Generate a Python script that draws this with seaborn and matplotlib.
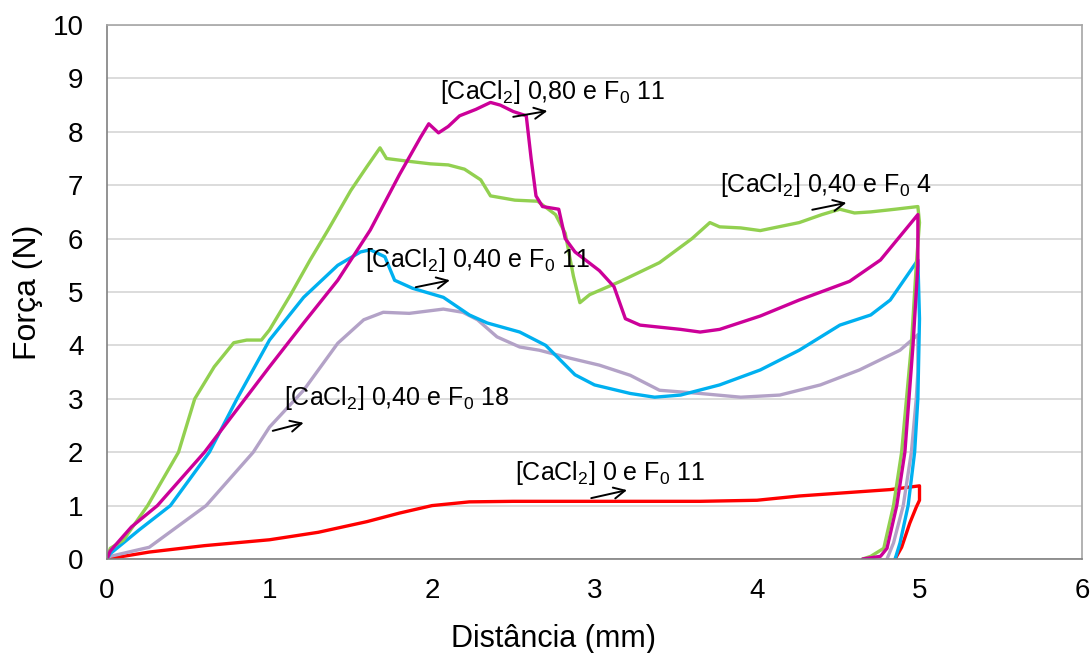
import numpy as np
import pandas as pd
import seaborn as sns
import matplotlib
matplotlib.use("Agg")
import matplotlib.pyplot as plt

# ---- data ----
red_x = [0, 0.26, 0.6, 1.0, 1.3, 1.6, 1.8, 2.0, 2.23, 2.5, 3.0, 3.65, 4.0, 4.26, 4.82, 5.0,
         5.0, 4.98, 4.94, 4.89, 4.85]
red_y = [0, 0.13, 0.25, 0.36, 0.5, 0.7, 0.86, 1.0, 1.07, 1.08, 1.08, 1.08, 1.1, 1.18, 1.3, 1.37,
         1.1, 0.97, 0.67, 0.22, 0]

purple_x = [0, 0.02, 0.26, 0.61, 0.9, 1.0, 1.21, 1.42, 1.58, 1.7, 1.86, 2.07, 2.19, 2.28, 2.4,
            2.54, 2.66, 2.85, 3.03, 3.22, 3.4, 3.65, 3.9, 4.14, 4.39, 4.63, 4.88, 4.99,
            4.99, 4.98, 4.95, 4.9, 4.84, 4.8]
purple_y = [0, 0.05, 0.22, 1.0, 2.0, 2.47, 3.16, 4.04, 4.48, 4.62, 4.6, 4.68, 4.62, 4.48, 4.16,
            3.97, 3.91, 3.76, 3.63, 3.44, 3.16, 3.1, 3.03, 3.07, 3.26, 3.54, 3.91, 4.2,
            3.5, 3.0, 2.0, 1.0, 0.3, 0]

cyan_x = [0, 0.02, 0.2, 0.39, 0.63, 0.8, 1.0, 1.21, 1.42, 1.56, 1.62, 1.71, 1.77, 1.88, 2.07,
          2.23, 2.34, 2.54, 2.7, 2.88, 3.0, 3.22, 3.37, 3.53, 3.77, 4.02, 4.26, 4.51, 4.7,
          4.82, 4.99, 5.0, 4.99, 4.97, 4.93, 4.88, 4.85]
cyan_y = [0, 0.1, 0.55, 1.0, 2.0, 3.0, 4.1, 4.9, 5.5, 5.75, 5.79, 5.66, 5.22, 5.07, 4.9,
          4.57, 4.42, 4.25, 4.0, 3.45, 3.26, 3.1, 3.03, 3.07, 3.26, 3.54, 3.91, 4.38, 4.57,
          4.85, 5.6, 4.5, 3.0, 2.0, 1.0, 0.3, 0]

green_x = [0, 0.02, 0.1, 0.25, 0.44, 0.54, 0.66, 0.78, 0.86, 0.95, 1.0, 1.13, 1.25, 1.36, 1.5,
           1.6, 1.68, 1.72, 1.85, 1.99, 2.1, 2.2, 2.3, 2.36, 2.51, 2.65, 2.76, 2.82, 2.87,
           2.91, 2.97, 3.16, 3.4, 3.6, 3.71, 3.77, 3.9, 4.02, 4.1, 4.26, 4.4, 4.51, 4.6, 4.7,
           4.85, 4.99, 5.0, 4.98, 4.95, 4.89, 4.84, 4.78, 4.7, 4.65]
green_y = [0, 0.2, 0.35, 1.0, 2.0, 3.0, 3.6, 4.05, 4.1, 4.1, 4.29, 4.95, 5.6, 6.16, 6.9,
           7.35, 7.7, 7.5, 7.45, 7.4, 7.38, 7.3, 7.1, 6.8, 6.72, 6.7, 6.45, 6.1, 5.3,
           4.8, 4.95, 5.2, 5.55, 6.0, 6.3, 6.22, 6.2, 6.15, 6.2, 6.3, 6.45, 6.55, 6.48, 6.5,
           6.55, 6.6, 6.3, 5.5, 4.0, 2.0, 1.0, 0.2, 0.05, 0]

magenta_x = [0, 0.02, 0.15, 0.31, 0.6, 0.8, 1.0, 1.21, 1.42, 1.62, 1.8, 1.93, 1.98, 2.04, 2.1,
             2.17, 2.27, 2.36, 2.42, 2.5, 2.58, 2.61, 2.64, 2.68, 2.78, 2.82, 2.88, 3.03, 3.12,
             3.19, 3.28, 3.53, 3.65, 3.77, 4.02, 4.26, 4.57, 4.76, 4.99,
             4.99, 4.96, 4.91, 4.86, 4.8, 4.76, 4.65]
magenta_y = [0, 0.15, 0.6, 1.0, 2.0, 2.8, 3.6, 4.42, 5.22, 6.16, 7.2, 7.9, 8.15, 7.98, 8.1,
             8.3, 8.42, 8.55, 8.5, 8.38, 8.3, 7.5, 6.8, 6.6, 6.55, 6.0, 5.75, 5.4, 5.1,
             4.5, 4.38, 4.3, 4.25, 4.3, 4.55, 4.85, 5.2, 5.6, 6.45,
             5.5, 4.0, 2.0, 1.0, 0.2, 0.05, 0]

series_names = ["red", "purple", "cyan", "green", "magenta"]
series_colors = ["#ff0000", "#b3a2c7", "#00b0f0", "#92d050", "#cc0099"]

labels = ["[CaCl$_\\mathregular{2}$] 0,80 e F$_\\mathregular{0}$ 11",
          "[CaCl$_\\mathregular{2}$] 0,40 e F$_\\mathregular{0}$ 4",
          "[CaCl$_\\mathregular{2}$] 0,40 e F$_\\mathregular{0}$ 11",
          "[CaCl$_\\mathregular{2}$] 0,40 e F$_\\mathregular{0}$ 18",
          "[CaCl$_\\mathregular{2}$] 0 e F$_\\mathregular{0}$ 11"]
label_xy = [(2.05, 8.75), (3.77, 7.0), (1.59, 5.6), (1.09, 3.01), (2.51, 1.61)]
arrow_from = [(2.50, 8.28), (4.34, 6.54), (1.90, 5.09), (1.02, 2.40), (2.98, 1.14)]
arrow_to = [(2.71, 8.39), (4.55, 6.67), (2.11, 5.22), (1.21, 2.55), (3.20, 1.29)]

xticks = [0, 1, 2, 3, 4, 5, 6]
yticks = list(range(0, 11))

# ---- build long-form table ----
xs = [red_x, purple_x, cyan_x, green_x, magenta_x]
ys = [red_y, purple_y, cyan_y, green_y, magenta_y]
frames = []
for n, xx, yy in zip(series_names, xs, ys):
    frames.append(pd.DataFrame({"x": xx, "y": yy, "s": n, "o": np.arange(len(xx))}))
df = pd.concat(frames, ignore_index=True)

sns.set_theme(style="white")
plt.rcParams["font.family"] = ["Liberation Sans", "DejaVu Sans"]
plt.rcParams["mathtext.fontset"] = "custom"
plt.rcParams["mathtext.rm"] = "Liberation Sans"
plt.rcParams["text.color"] = "black"
plt.rcParams["axes.labelcolor"] = "black"
plt.rcParams["xtick.color"] = "black"
plt.rcParams["ytick.color"] = "black"

fig = plt.figure(figsize=(10.92, 6.53), dpi=100)
ax = fig.add_axes([107 / 1092, 94 / 653, (1082 - 107) / 1092, (559 - 25) / 653])

for n, c in zip(series_names, series_colors):
    sns.lineplot(data=df[df["s"] == n], x="x", y="y", sort=False, estimator=None,
                 color=c, lw=2.4, ax=ax, legend=False)

ax.set_xlim(0, 6)
ax.set_ylim(0, 10)
ax.set_xticks(xticks)
ax.set_yticks(yticks)
ax.tick_params(axis="both", labelsize=20, direction="out", length=7, width=1.2,
               color="#808080", labelcolor="black")
ax.tick_params(axis="y", pad=10)
ax.tick_params(axis="x", pad=7)
ax.yaxis.grid(True, color="#d9d9d9", lw=1.3)
ax.set_axisbelow(True)
for side in ["left", "bottom"]:
    ax.spines[side].set_color("#808080")
    ax.spines[side].set_linewidth(1.2)
for side in ["top", "right"]:
    ax.spines[side].set_color("#a6a6a6")
    ax.spines[side].set_linewidth(1.2)
ax.spines["top"].set_visible(True)
ax.spines["right"].set_visible(True)

ax.set_xlabel("Distância (mm)", fontsize=22, color="black")
ax.set_ylabel("Força (N)", fontsize=23, color="black")
ax.xaxis.set_label_coords(0.458, -0.122)
ax.yaxis.set_label_coords(-0.066, 0.5)

for lab, (tx, ty), a0, a1 in zip(labels, label_xy, arrow_from, arrow_to):
    ax.text(tx, ty, lab, fontsize=18, ha="left", va="center", color="black")
    ax.annotate("", xy=a1, xytext=a0,
                arrowprops=dict(arrowstyle="->", color="black", lw=1.4,
                                mutation_scale=20, shrinkA=0, shrinkB=0))

fig.savefig("out.png", dpi=100)
